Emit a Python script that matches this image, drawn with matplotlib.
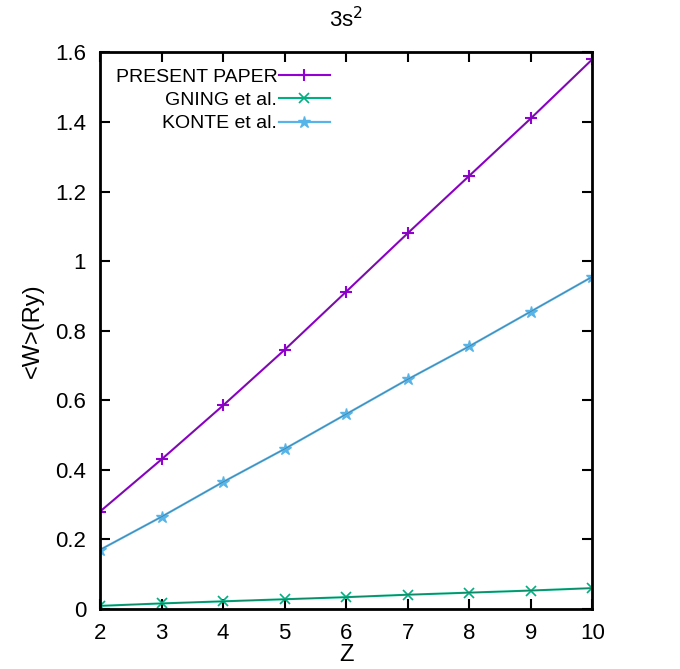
import numpy as np
import matplotlib.pyplot as plt
from matplotlib.ticker import FuncFormatter

plt.rcParams['font.family'] = ['Liberation Sans', 'DejaVu Sans']

# Data
Z = [2, 3, 4, 5, 6, 7, 8, 9, 10]
present = [0.28, 0.43, 0.585, 0.745, 0.912, 1.08, 1.245, 1.41, 1.58]
gning = [0.009, 0.016, 0.022, 0.028, 0.034, 0.041, 0.047, 0.053, 0.060]
konte = [0.17, 0.265, 0.365, 0.46, 0.56, 0.66, 0.755, 0.855, 0.955]

fig = plt.figure(figsize=(6.8, 6.69), dpi=100)
ax = fig.add_axes([0.147, 0.0897, 0.724, 0.832])

ax.plot(Z, present, color='#9400d3', lw=1.5, marker='+', ms=8, mew=1.5, label='PRESENT PAPER')
ax.plot(Z, gning, color='#00b080', lw=1.5, marker='x', ms=7, mew=1.2, label='GNING et al.')
ax.plot(Z, konte, color='#56b4e9', lw=1.6, marker='*', ms=9, mew=1, label='KONTE et al.')
# thin dark core lines as in the original rendering
for ys in (present, gning, konte):
    ax.plot(Z, ys, color='#333333', lw=0.5, alpha=0.45)

ax.set_xlim(2, 10)
ax.set_ylim(0, 1.6)
ax.set_xticks(range(2, 11))
ax.set_yticks(np.arange(0, 1.61, 0.2))
ax.yaxis.set_major_formatter(FuncFormatter(lambda v, p: '%g' % round(v, 1)))
ax.tick_params(direction='in', length=7, width=1.5, top=True, right=True, labelsize=16, pad=10)
for s in ax.spines.values():
    s.set_linewidth(2)

ax.set_xlabel('Z', fontsize=17, labelpad=0)
ax.set_ylabel('<W>(Ry)', fontsize=17, labelpad=8)
ax.set_title('3s$^2$', fontsize=16, pad=18)

ax.legend(loc='upper left', markerfirst=False, frameon=False, fontsize=14,
          handlelength=2.6, borderaxespad=0.5, borderpad=0.3,
          labelspacing=0.3, handletextpad=0.1)

fig.savefig('out.png', dpi=100)
